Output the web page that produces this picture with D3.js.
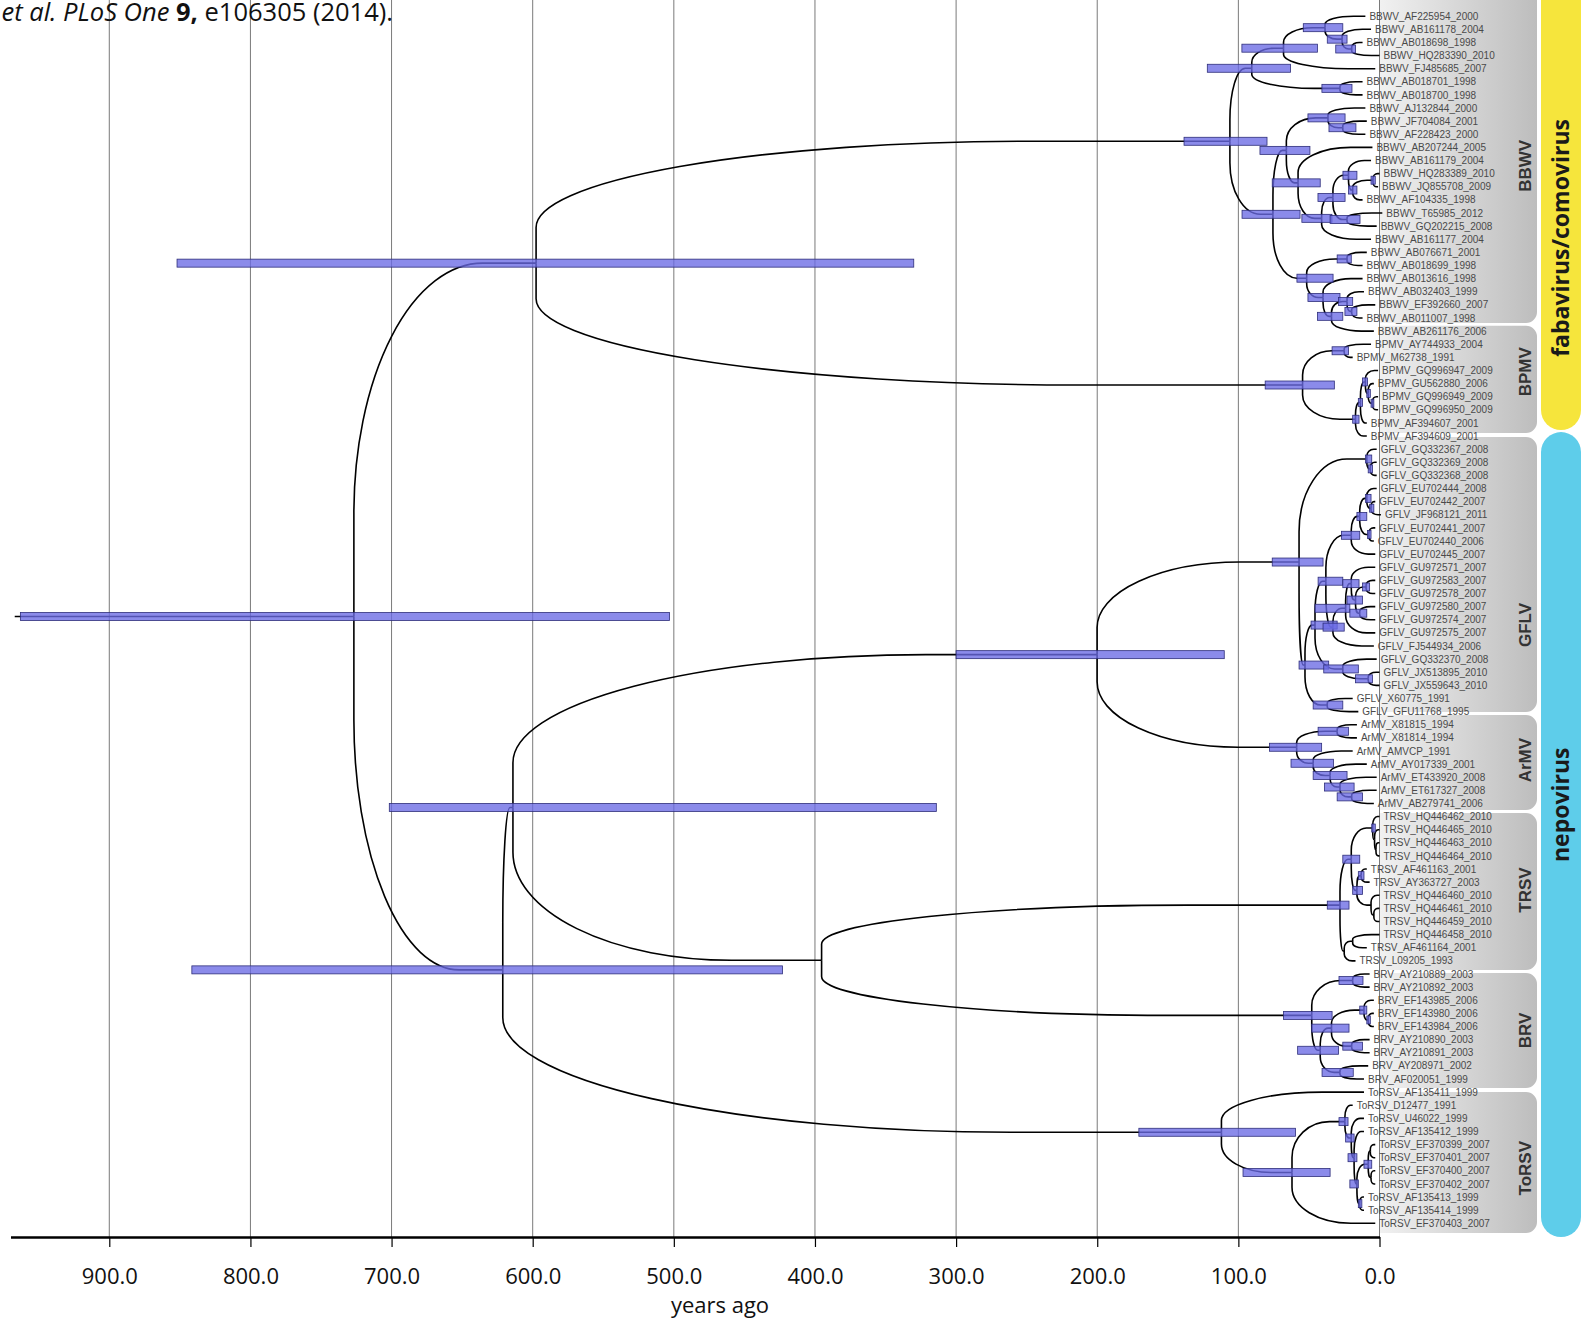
<!DOCTYPE html>
<html lang="en">
<head>
<meta charset="UTF-8">
<script src="https://d3js.org/d3.v7.min.js"></script>
<title>Time tree</title>
<style>
  body { margin: 0; background: #fff; }
  svg { display: block; }
</style>
</head>
<body>
<div id="canvas"></div>
<script>
// ---------- data ----------
const tickValues = [900, 800, 700, 600, 500, 400, 300, 200, 100, 0]
const axisTitle = "years ago"
const refYear = 2010          // tips sit at refYear - sampling year
const rootStubAge = 967

// subtrees per clade: tip = accession_year, internal node = (...)[age, hpdOld, hpdYoung]
const bbwvTree = "((((AF225954_2000,(AB161178_2004,(AB018698_1998,HQ283390_2010)[19.7,31,17])[26.5,37,23])[38.6,54,26],FJ485685_2007)[68,97.5,44],(AB018701_1998,AB018700_1998)[28,40.8,19.5])[90.5,122,63]," +
  "(((AJ132844_2000,(JF704084_2001,AF228423_2000)[26,35.8,16.7])[36.5,50.7,24.4],(AB207244_2005,(((AB161179_2004,((HQ283389_2010,JQ855708_2009)[4.6,6,3],AF104335_1998)[19,22,16])[22,25.9,16],(T65985_2012,GQ202215_2008)[23,35,13.8])[33,43.6,24.4],AB161177_2004)[41,55,33.7])[57.7,76,42])[66,84.7,49.3]," +
  "((AB076671_2001,AB018699_1998)[23,30,20],(AB013616_1998,((AB032403_1999,(EF392660_2007,AB011007_1998)[19.7,24.5,16])[23,29,19],AB261176_2006)[34,44,26])[40,50.7,28])[51.6,58.5,32.9])[75.5,97.4,56.3])[106,138.5,79.7]"
const bpmvTree = "((AY744933_2004,M62738_1991)[25,33.6,22],(((GQ996947_2009,(GU562880_2006,(GQ996949_2009,GQ996950_2009)[5,6,4])[8,9,6.5])[10,12,8.5],AF394607_2001)[13.5,15,12],AF394609_2001)[17,19,14.5])[54.5,81,32]"
const gflvTree = "((GQ332367_2008,(GQ332369_2008,GQ332368_2008)[6.5,8,5])[9,10,5.5],((((((EU702444_2008,(EU702442_2007,JF968121_2011)[6,7,4])[9,10,6],(EU702441_2007,EU702440_2006)[7.5,8.5,6])[14,16,9],EU702445_2007)[20,27,14]," +
  "(((GU972571_2007,((GU972583_2007,GU972578_2007)[9.5,12,7],(GU972580_2007,GU972574_2007)[14,21,9])[17,23,12])[20,26,14.5],GU972575_2007)[24,45.7,21],FJ544934_2006)[33,40,25])[38,43.5,26]," +
  "(GQ332370_2008,(JX513895_2010,JX559643_2010)[8,17,5])[26,39.5,15])[45.7,48.5,30],(X60775_1991,GFU11768_1995)[37,47,26])[52.8,57,36])[57,76,40]"
const armvTree = "((X81815_1994,X81814_1994)[30,43.5,22],(AMVCP_1991,(AY017339_2001,(ET433920_2008,(ET617327_2008,AB279741_2006)[19.7,30,12])[28,39,18])[35,47,23])[47,62.7,32.6])[58.7,78,41]"
const trsvTree = "(((HQ446462_2010,(HQ446465_2010,(HQ446463_2010,HQ446464_2010)[2.5])[3.5])[4.8,5.5,3],((AF461163_2001,AY363727_2003)[13,15,11],(HQ446460_2010,(HQ446461_2010,HQ446459_2010)[4])[6])[16,19,12])[20,26,14]," +
  "((HQ446458_2010,AF461164_2001)[19],L09205_1993)[25])[28,37,21.6]"
const brvTree = "((AY210889_2003,AY210892_2003)[19,28.7,11.7],(((EF143985_2006,(EF143980_2006,EF143984_2006)[8,9,6.5])[11,14,9],(AY210890_2003,AY210891_2003)[19.7,26,12])[34,48,21.6],(AY208971_2002,AF020051_1999)[28,40.7,18.6])[42,58,29])[48,68,33.6]"
const torsvTree = "(AF135411_1999,((D12477_1991,(U46022_1999,(AF135412_1999,(((EF370399_2007,EF370401_2007)[6.5],(EF370400_2007,EF370402_2007)[6])[8,11,5.5],(AF135413_1999,AF135414_1999)[14,15,12.5])[16,21,15])[18,22.3,16])[20,24,18])[24.5,28.7,22.3],EF370403_2007)[62,96.7,35])[112,170.5,59.5]"
const backboneTree = "((BBWV,BPMV)[597.6,852,330],(((GFLV,ArMV)[200.1,300,110],(TRSV,BRV)[395.3])[614,701.6,314],ToRSV)[621.2,841.5,423])[726.7,963,503]"

const cladeNames = ["BBWV", "BPMV", "GFLV", "ArMV", "TRSV", "BRV", "ToRSV"]
const cladeTrees = [bbwvTree, bpmvTree, gflvTree, armvTree, trsvTree, brvTree, torsvTree]
// shaded bands behind each clade, in tip-row units
const cladeBands = [[-2, 23.38], [23.6, 31.77], [32.07, 53.03], [53.26, 60.5], [60.73, 72.7], [72.93, 81.69], [81.99, 92.74]]
const groupNames = ["fabavirus/comovirus", "nepovirus"]
const groupBands = [[-5, 31.54], [31.7, 93.05]]

// ---------- layout ----------
const W = 1587, H = 1320
const axisY = 1237
const boxLeft = 1380, boxRight = 1537
const cladeLabelRow = [11.4, 27.1, 46.4, 56.7, 66.6, 77.3, 87.8]
const groupLabelRow = [16.9, 60.1]

const x = d3.scaleLinear().domain([970, 0]).range([10.5, 1379.5])
const row = d3.scaleLinear().domain([0, 92]).range([16.2, 1223.3])

function parseTree(str, leaf) {
  const s = str.replace(/\s+/g, "")
  let i = 0
  function readNode() {
    let node
    if (s[i] === "(") {
      i++
      const kids = [readNode()]
      while (s[i] === ",") { i++; kids.push(readNode()) }
      i++
      node = { children: kids }
    } else {
      const start = i
      while (i < s.length && ",)[".indexOf(s[i]) < 0) i++
      node = leaf(s.slice(start, i))
    }
    if (s[i] === "[") {
      const end = s.indexOf("]", i)
      const v = s.slice(i + 1, end).split(",").map(Number)
      node.age = v[0]
      if (v.length === 3) node.hpd = [v[1], v[2]]
      i = end + 1
    }
    return node
  }
  return readNode()
}

const cladeLookup = {}
cladeNames.forEach((c, i) => cladeLookup[c] = cladeTrees[i])
const treeData = parseTree(backboneTree, clade =>
  parseTree(cladeLookup[clade], id => ({ name: clade + "_" + id, age: refYear - +id.slice(-4) })))

const root = d3.hierarchy(treeData)
root.leaves().forEach((d, i) => { d.py = row(i) })
root.eachAfter(d => {
  d.px = x(d.data.age)
  if (d.children) d.py = (d.children[0].py + d.children[d.children.length - 1].py) / 2
})

const svg = d3.select("#canvas").append("svg").attr("width", W).attr("height", H)
const defs = svg.append("defs")
const grad = defs.append("linearGradient").attr("id", "boxShade").attr("x1", 0).attr("x2", 1).attr("y1", 0).attr("y2", 0)
grad.append("stop").attr("offset", 0).attr("stop-color", "#f1f1f1")
grad.append("stop").attr("offset", 1).attr("stop-color", "#bdbdbd")

// clade bands
function rightRounded(x0, x1, y0, y1, r) {
  return `M${x0},${y0}H${x1 - r}A${r},${r} 0 0 1 ${x1},${y0 + r}V${y1 - r}A${r},${r} 0 0 1 ${x1 - r},${y1}H${x0}Z`
}
svg.append("g").selectAll("path").data(cladeBands).join("path")
  .attr("d", d => rightRounded(boxLeft, boxRight, row(d[0]), row(d[1]), 11))
  .attr("fill", "url(#boxShade)")

// gridlines
svg.append("g").selectAll("line").data(tickValues).join("line")
  .attr("x1", d => x(d)).attr("x2", d => x(d)).attr("y1", 0).attr("y2", axisY)
  .attr("stroke", "#7a7a7a").attr("stroke-width", 1)

// branches
const k = 1 - Math.SQRT1_2
function branchPath(p, c) {
  const x0 = p.px, y0 = p.py, x1 = c.px, y1 = c.py
  const y2 = y0 + (y1 - y0) * k
  const x2 = x1 - (x1 - x0) * k
  const rx = x2 - x0, ry = Math.abs(y1 - y2)
  if (rx < 0.05 || ry < 0.05) return `M${x0},${y0}L${x0},${y1}L${x1},${y1}`
  return `M${x0},${y0}L${x0},${y2}A${rx},${ry} 0 0 ${y1 < y0 ? 1 : 0} ${x2},${y1}L${x1},${y1}`
}
const treeG = svg.append("g").attr("fill", "none").attr("stroke", "#000").attr("stroke-width", 1.6)
treeG.append("line").attr("x1", x(rootStubAge)).attr("x2", root.px).attr("y1", root.py).attr("y2", root.py)
treeG.selectAll("path").data(root.links()).join("path")
  .attr("d", l => branchPath(l.source, l.target))

// HPD bars
svg.append("g").selectAll("rect").data(root.descendants().filter(d => d.data.hpd)).join("rect")
  .attr("x", d => x(d.data.hpd[0]))
  .attr("width", d => x(d.data.hpd[1]) - x(d.data.hpd[0]))
  .attr("y", d => d.py - 4).attr("height", 8)
  .attr("fill", "#6a6ae4").attr("fill-opacity", 0.78)
  .attr("stroke", "#2e2e7a").attr("stroke-width", 0.8)

// tip labels
svg.append("g").selectAll("text").data(root.leaves()).join("text")
  .attr("x", d => d.px + 4).attr("y", d => d.py).attr("dy", "0.36em")
  .style("font-family", "'Liberation Sans', Arial, sans-serif").style("font-size", "10px")
  .attr("fill", "#4a4a4a")
  .text(d => d.data.name)

// clade labels
svg.append("g").selectAll("text").data(cladeNames).join("text")
  .attr("transform", (d, i) => `translate(${1525},${row(cladeLabelRow[i])}) rotate(-90)`)
  .attr("text-anchor", "middle").attr("dy", "0.36em")
  .style("font-family", "'Liberation Sans', Arial, sans-serif").style("font-size", "17px").style("font-weight", "bold")
  .attr("fill", "#333")
  .text(d => d)

// group pills
const groupColors = ["#f6e53c", "#5ecdea"]
svg.append("g").selectAll("rect").data(groupBands).join("rect")
  .attr("x", 1541).attr("width", 40).attr("rx", 20)
  .attr("y", d => row(d[0])).attr("height", d => row(d[1]) - row(d[0]))
  .attr("fill", (d, i) => groupColors[i])
svg.append("g").selectAll("text").data(groupNames).join("text")
  .attr("transform", (d, i) => `translate(${1561},${row(groupLabelRow[i])}) rotate(-90)`)
  .attr("text-anchor", "middle").attr("dy", "0.36em")
  .style("font-family", "'Open Sans', sans-serif").style("font-size", "23px").style("font-weight", "bold")
  .attr("fill", "#1a1a1a")
  .text(d => d)

// axis
const axisG = svg.append("g").attr("transform", `translate(0,${axisY})`)
  .call(d3.axisBottom(x).tickValues(tickValues).tickFormat(d3.format(".1f")).tickSize(10).tickSizeOuter(0))
axisG.select(".domain").attr("stroke-width", 2.5)
axisG.selectAll(".tick line").attr("stroke-width", 1.2)
axisG.selectAll(".tick text").attr("y", 47).attr("dy", 0)
  .style("font-family", "'Open Sans', sans-serif").style("font-size", "22px").attr("fill", "#111")
svg.append("text").attr("x", 720).attr("y", 1313).attr("text-anchor", "middle")
  .style("font-family", "'Open Sans', sans-serif").style("font-size", "22px").attr("fill", "#111")
  .text(axisTitle)

// citation fragment at top-left (its start runs past the page edge, as in the source)
const cite = svg.append("text").attr("x", 393).attr("y", 21).attr("text-anchor", "end")
  .style("font-family", "'Open Sans', sans-serif").style("font-size", "25.5px").attr("fill", "#111")
cite.append("tspan").attr("font-style", "italic").text("et al. PLoS One ")
cite.append("tspan").attr("font-weight", "bold").text("9,")
cite.append("tspan").text(" e106305 (2014).")
</script>
</body>
</html>
